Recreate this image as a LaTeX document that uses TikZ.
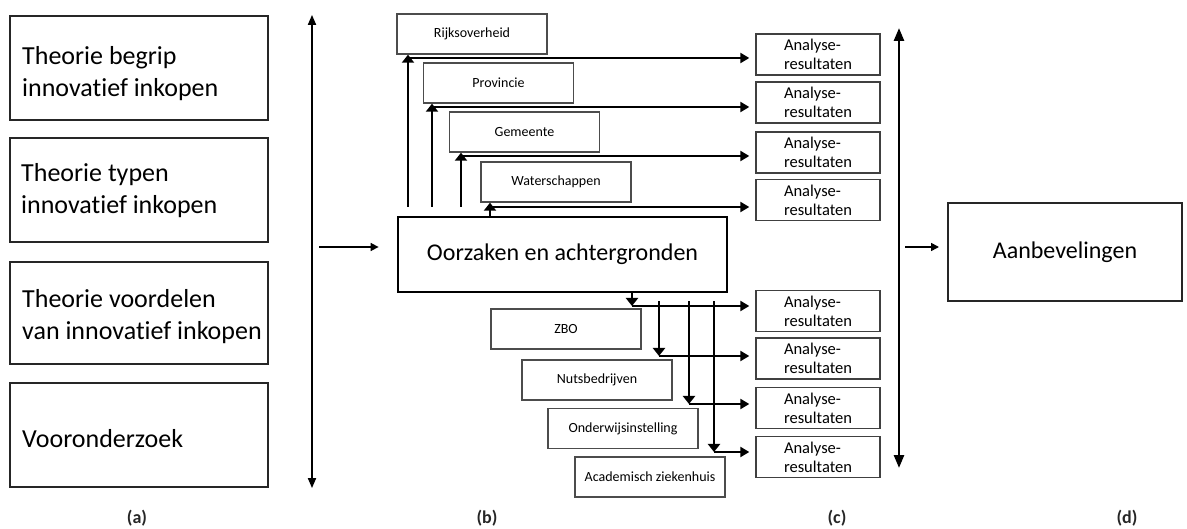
\documentclass[tikz,border=0pt]{standalone}
\usepackage{fontspec}
\setmainfont{Carlito}[Ligatures=NoCommon]
\usetikzlibrary{arrows.meta}
\begin{document}
\begin{tikzpicture}[x=1pt,y=-1pt,
  leftbox/.style={draw=black!85, line width=2.2pt, minimum width=258pt, inner sep=0pt},
  lefttext/.style={anchor=west, inner sep=0pt, align=left, font=\fontsize{26}{32}\selectfont},
  orgbox/.style={draw=black!70, line width=1.4pt, minimum width=150pt, minimum height=40pt, inner sep=0pt, font=\fontsize{14}{16}\selectfont},
  resbox/.style={draw=black!75, line width=1.4pt, minimum width=124pt, minimum height=41pt, inner sep=0pt, align=left, font=\fontsize{16.5}{19}\selectfont},
  mainbox/.style={draw=black, line width=2.8pt, minimum width=329pt, minimum height=75pt, inner sep=0pt, font=\fontsize{24}{28}\selectfont},
  endbox/.style={draw=black!85, line width=2pt, minimum width=234pt, minimum height=98pt, inner sep=0pt, font=\fontsize{24}{28}\selectfont},
  lab/.style={font=\fontsize{18}{20}\selectfont\bfseries, text=black!85},
  uparrow/.style={line width=2.8pt, -{Triangle[width=12pt,length=8pt]}},
  harrow/.style={line width=2.8pt, -{Triangle[width=10pt,length=9pt]}, shorten >=6pt},
  dblthin/.style={line width=1.8pt, {Triangle[width=8pt,length=10pt]}-{Triangle[width=8pt,length=10pt]}},
  dblthick/.style={line width=2.6pt, {Triangle[width=10pt,length=13pt]}-{Triangle[width=10pt,length=13pt]}},
  thinarrow/.style={line width=1.6pt, -{Triangle[width=8pt,length=8pt]}}
]
\useasboundingbox (0,0) rectangle (1187,529);

% (a) theory boxes
\node[leftbox, minimum height=104pt] (t1) at (139,68) {};
\node[leftbox, minimum height=104pt] (t2) at (139,190) {};
\node[leftbox, minimum height=102pt] (t3) at (139,313) {};
\node[leftbox, minimum height=104pt] (t4) at (139,435) {};
\node[lefttext] (tx1) at (22,74) {Theorie begrip\\innovatief inkopen};
\node[lefttext] (tx2) at (21,190.5) {Theorie typen\\innovatief inkopen};
\node[lefttext] (tx3) at (22,317) {Theorie voordelen\\van innovatief inkopen};
\node[lefttext] (tx4) at (22,439) {Vooronderzoek};

\coordinate (la) at (312,0);
\draw[dblthin] (t1.north -| la) -- (t4.south -| la);

% (b) main box
\node[mainbox] (oorz) at (562.5,254.5) {Oorzaken en achtergronden};
\coordinate (m1) at (319,247);
\draw[thinarrow, shorten >=18pt] (m1) -- (m1 -| oorz.west);

% upper organisations
\node[orgbox] (r1) at (472,34) {Rijksoverheid};
\node[orgbox] (r2) at (498.5,83) {Provincie};
\node[orgbox] (r3) at (524.5,132) {Gemeente};
\node[orgbox] (r4) at (556,182) {Waterschappen};

% lower organisations
\node[orgbox] (s1) at (566,329) {ZBO};
\node[orgbox] (s2) at (597,380) {Nutsbedrijven};
\node[orgbox] (s3) at (623,428.5) {Onderwijsinstelling};
\node[orgbox] (s4) at (650,477) {Academisch ziekenhuis};

% (c) analysis results
\foreach \n/\y in {1/54.5,2/102.5,3/152.5,4/200,5/311,6/358.5,7/408,8/457}{
  \node[resbox] (a\n) at (818,\y) {Analyse-\\resultaten};
}

% upward connectors
\coordinate (u1) at (408,58);
\coordinate (u2) at (432,107);
\coordinate (u3) at (461,156);
\coordinate (u4) at (490,207);
\draw[uparrow, shorten <=9pt] (oorz.north -| u1) -- (r1.south -| u1);
\draw[uparrow, shorten <=9pt] (oorz.north -| u2) -- (r2.south -| u2);
\draw[uparrow, shorten <=9pt] (oorz.north -| u3) -- (r3.south -| u3);
\draw[uparrow] (oorz.north -| u4) -- (r4.south -| u4);
\draw[harrow] (u1) -- (u1 -| a1.west);
\draw[harrow] (u2) -- (u2 -| a2.west);
\draw[harrow] (u3) -- (u3 -| a3.west);
\draw[harrow] (u4) -- (u4 -| a4.west);

% downward connectors
\coordinate (d5) at (632,306);
\coordinate (d6) at (659,356);
\coordinate (d7) at (689,404);
\coordinate (d8) at (714,452);
\draw[uparrow] (oorz.south -| d5) -- (d5);
\draw[uparrow, shorten <=8pt] (oorz.south -| d6) -- (d6);
\draw[uparrow, shorten <=8pt] (oorz.south -| d7) -- (d7);
\draw[uparrow, shorten <=8pt] (oorz.south -| d8) -- (d8);
\draw[harrow] (d5) -- (d5 -| a5.west);
\draw[harrow] (d6) -- (d6 -| a6.west);
\draw[harrow] (d7) -- (d7 -| a7.west);
\draw[harrow] (d8) -- (d8 -| a8.west);

% right double arrow
\coordinate (rt) at (899,28);
\coordinate (rb) at (899,468);
\draw[dblthick] (rt) -- (rb);

% (d) recommendations
\node[endbox] (aan) at (1065,252) {Aanbevelingen};
\coordinate (m2) at (905,247);
\draw[thinarrow, shorten >=8pt] (m2) -- (m2 -| aan.west);

% labels
\node[lab] (la1) at (137,518) {(a)};
\node[lab] (la2) at (487,518) {(b)};
\node[lab] (la3) at (837,518) {(c)};
\node[lab] (la4) at (1127,518) {(d)};
\end{tikzpicture}
\end{document}
